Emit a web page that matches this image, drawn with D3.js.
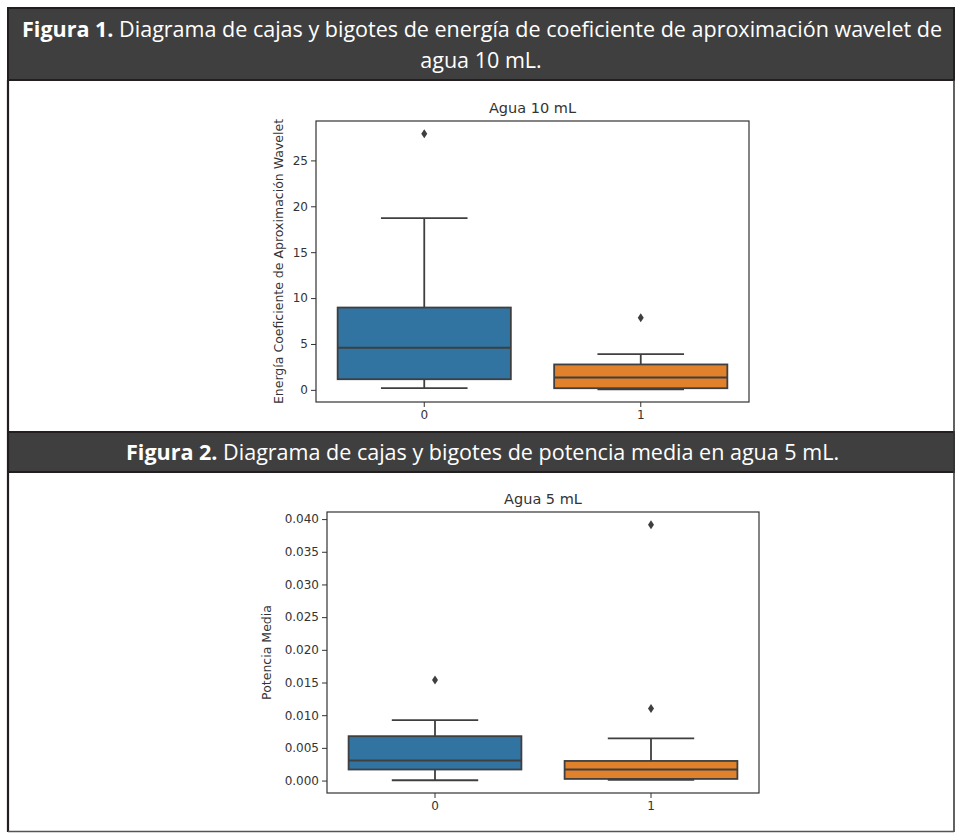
<!DOCTYPE html>
<html>
<head>
<meta charset="utf-8">
<script src="https://cdn.jsdelivr.net/npm/d3@7"></script>
<style>
  html, body { margin: 0; padding: 0; background: #ffffff; }
  svg { display: block; }
</style>
</head>
<body>
<svg id="fig" width="956" height="833"></svg>
<script>
// Grupos en el eje x
const categories = ["0", "1"];

// Figura 1: energía del coeficiente de aproximación wavelet (agua 10 mL)
const energiaBigoteInf = [0.2, 0.07];
const energiaQ1 = [1.16, 0.18];
const energiaMediana = [4.59, 1.35];
const energiaQ3 = [8.97, 2.77];
const energiaBigoteSup = [18.7, 3.9];
const energiaAtipicos = [[27.9], [7.87]];
const energiaTicks = [0, 5, 10, 15, 20, 25];

// Figura 2: potencia media (agua 5 mL)
const potenciaBigoteInf = [0.00005, 0.0001];
const potenciaQ1 = [0.00169, 0.00025];
const potenciaMediana = [0.00307, 0.00169];
const potenciaQ3 = [0.00679, 0.0030];
const potenciaBigoteSup = [0.00924, 0.00644];
const potenciaAtipicos = [[0.01537], [0.01103, 0.03913]];
const potenciaTicks = [0, 0.005, 0.010, 0.015, 0.020, 0.025, 0.030, 0.035, 0.040];

const palette = ["#3274a1", "#e1812c"];
const edge = "#3f3f3f";
const ink = "#333333";

const svg = d3.select("#fig");

// Marco exterior y cabeceras de las figuras
const frame = svg.append("g");
function header(y0, y1) {
  frame.append("rect")
    .attr("x", 8).attr("y", y0).attr("width", 946).attr("height", y1 - y0)
    .attr("fill", "#3f3f3f").attr("stroke", "#231f20").attr("stroke-width", 2);
}
header(8, 80);
header(432, 472);
frame.append("line").attr("x1", 8).attr("x2", 8).attr("y1", 80).attr("y2", 832)
  .attr("stroke", "#231f20").attr("stroke-width", 2.2);
frame.append("line").attr("x1", 954).attr("x2", 954).attr("y1", 80).attr("y2", 832)
  .attr("stroke", "#3a3a3a").attr("stroke-width", 1.6);
frame.append("line").attr("x1", 8).attr("x2", 954).attr("y1", 831.5).attr("y2", 831.5)
  .attr("stroke", "#555555").attr("stroke-width", 1.6);

const headFont = "'Liberation Sans Narrow', 'Open Sans', 'Noto Sans', sans-serif";
function headerLine(x, y, bold, rest, anchor) {
  const t = frame.append("text")
    .attr("x", x).attr("y", y)
    .attr("fill", "#ffffff")
    .attr("font-family", headFont)
    .attr("font-size", 21)
    .attr("text-anchor", anchor);
  if (bold) t.append("tspan").attr("font-weight", "bold").text(bold + " ");
  t.append("tspan").text(rest);
  return t;
}
const l1 = headerLine(22, 37, "Figura 1.",
  "Diagrama de cajas y bigotes de energía de coeficiente de aproximación wavelet de", "start");
const l2 = headerLine(481, 68, null, "agua 10 mL.", "middle");
const l3 = headerLine(126, 460, "Figura 2.",
  "Diagrama de cajas y bigotes de potencia media en agua 5 mL.", "start");
// ajuste horizontal común para las tres líneas de cabecera
const ratio = 920 / l1.node().getComputedTextLength();
[l1, l2, l3].forEach(t => {
  const w = t.node().getComputedTextLength();
  t.attr("textLength", w * ratio).attr("lengthAdjust", "spacingAndGlyphs");
});

// Diagrama de cajas con estilo seaborn
function boxplot(opts) {
  const { left, right, top, bottom, title, ylabel, ticks, fmt,
          lo, q1, med, q3, hi, outliers, labelX } = opts;
  const g = svg.append("g");

  const all = lo.concat(hi, outliers.flat());
  const mn = d3.min(all), mx = d3.max(all);
  const pad = (mx - mn) * 0.05;
  const y = d3.scaleLinear().domain([mn - pad, mx + pad]).range([bottom, top]);
  const x = d3.scaleBand().domain(categories).range([left, right]).paddingInner(0).paddingOuter(0);
  const bw = x.bandwidth() * 0.8;
  const sw = 1.8;

  categories.forEach((c, i) => {
    const cx = x(c) + x.bandwidth() / 2;
    const seg = (x1, x2, y1, y2) => g.append("line")
      .attr("x1", x1).attr("x2", x2).attr("y1", y1).attr("y2", y2)
      .attr("stroke", edge).attr("stroke-width", sw);
    // bigotes
    seg(cx, cx, y(q3[i]), y(hi[i]));
    seg(cx, cx, y(q1[i]), y(lo[i]));
    seg(cx - bw / 4, cx + bw / 4, y(hi[i]), y(hi[i]));
    seg(cx - bw / 4, cx + bw / 4, y(lo[i]), y(lo[i]));
    // caja
    g.append("rect")
      .attr("x", cx - bw / 2).attr("width", bw)
      .attr("y", y(q3[i])).attr("height", y(q1[i]) - y(q3[i]))
      .attr("fill", palette[i]).attr("stroke", edge).attr("stroke-width", sw);
    // mediana
    seg(cx - bw / 2, cx + bw / 2, y(med[i]), y(med[i]));
    // valores atípicos
    outliers[i].forEach(v => {
      const py = y(v);
      g.append("path")
        .attr("d", `M${cx},${py - 4.5}L${cx + 3},${py}L${cx},${py + 4.5}L${cx - 3},${py}Z`)
        .attr("fill", edge);
    });
  });

  // ejes
  const yAxis = d3.axisLeft(y).tickValues(ticks).tickFormat(fmt).tickSizeOuter(0).tickSize(5).tickPadding(3);
  const ya = g.append("g").attr("transform", `translate(${left},0)`).call(yAxis);
  const xAxis = d3.axisBottom(x).tickSizeOuter(0).tickSize(5).tickPadding(3);
  const xa = g.append("g").attr("transform", `translate(0,${bottom})`).call(xAxis);
  [ya, xa].forEach(a => {
    a.select(".domain").remove();
    a.selectAll(".tick line").attr("stroke", ink).attr("stroke-width", 1);
    a.selectAll(".tick text").attr("fill", ink)
      .attr("font-family", "'DejaVu Sans', sans-serif").attr("font-size", 12);
  });

  // marco del área de trazado
  g.append("rect").attr("x", left).attr("y", top)
    .attr("width", right - left).attr("height", bottom - top)
    .attr("fill", "none").attr("stroke", "#333333").attr("stroke-width", 1.2);

  g.append("text")
    .attr("x", (left + right) / 2).attr("y", top - 8)
    .attr("text-anchor", "middle").attr("fill", ink)
    .attr("font-family", "'DejaVu Sans', sans-serif").attr("font-size", 14.5)
    .text(title);

  g.append("text")
    .attr("transform", `translate(${labelX},${(top + bottom) / 2}) rotate(-90)`)
    .attr("text-anchor", "middle").attr("fill", ink)
    .attr("font-family", "'DejaVu Sans', sans-serif").attr("font-size", 12.5)
    .text(ylabel);
}

boxplot({
  left: 316, right: 749, top: 121, bottom: 402,
  title: "Agua 10 mL",
  ylabel: "Energía Coeficiente de Aproximación Wavelet",
  ticks: energiaTicks, fmt: d3.format("d"),
  lo: energiaBigoteInf, q1: energiaQ1, med: energiaMediana, q3: energiaQ3,
  hi: energiaBigoteSup, outliers: energiaAtipicos, labelX: 283
});

boxplot({
  left: 327, right: 759, top: 512, bottom: 793,
  title: "Agua 5 mL",
  ylabel: "Potencia Media",
  ticks: potenciaTicks, fmt: d3.format(".3f"),
  lo: potenciaBigoteInf, q1: potenciaQ1, med: potenciaMediana, q3: potenciaQ3,
  hi: potenciaBigoteSup, outliers: potenciaAtipicos, labelX: 271
});
</script>
</body>
</html>
